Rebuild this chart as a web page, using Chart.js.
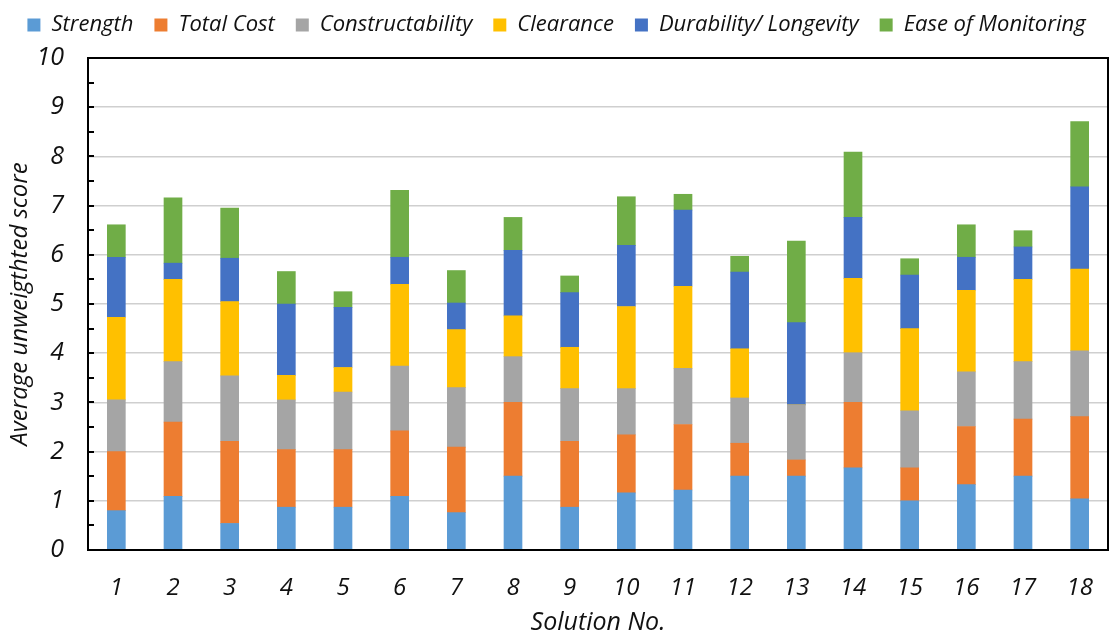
<!DOCTYPE html>
<html>
<head>
<meta charset="utf-8">
<script src="https://cdn.jsdelivr.net/npm/chart.js@4.4.1/dist/chart.umd.min.js"></script>
<style>
  html, body { margin: 0; padding: 0; background: #fff; }
  #wrap { width: 1117px; height: 640px; }
</style>
</head>
<body>
<div id="wrap"><canvas id="c" width="1117" height="640"></canvas></div>
<script>
// Solution numbers on the x axis
const categories = ['1','2','3','4','5','6','7','8','9','10','11','12','13','14','15','16','17','18'];

// Average unweighted scores per criterion (stacked)
const strength         = [0.80,1.09,0.54,0.87,0.87,1.09,0.76,1.50,0.87,1.16,1.22,1.50,1.50,1.67,1.00,1.33,1.50,1.04];
const totalCost        = [1.20,1.51,1.67,1.17,1.17,1.33,1.33,1.50,1.34,1.18,1.33,0.67,0.33,1.33,0.67,1.18,1.16,1.67];
const constructability = [1.05,1.23,1.33,1.01,1.17,1.32,1.21,0.93,1.07,0.94,1.14,0.92,1.12,1.01,1.16,1.11,1.17,1.34];
const clearance        = [1.68,1.67,1.51,0.50,0.50,1.66,1.18,0.83,0.84,1.67,1.67,1.00,0.00,1.51,1.67,1.66,1.67,1.66];
const durability       = [1.22,0.33,0.88,1.45,1.22,0.55,0.54,1.33,1.11,1.24,1.55,1.56,1.67,1.24,1.09,0.67,0.66,1.67];
const easeMonitoring   = [0.66,1.33,1.02,0.66,0.32,1.36,0.66,0.67,0.34,0.99,0.32,0.32,1.66,1.33,0.33,0.66,0.33,1.33];

// Y axis tick labels
const yTicks = [0,1,2,3,4,5,6,7,8,9,10];

const seriesNames  = ['Strength','Total Cost','Constructability','Clearance','Durability/ Longevity','Ease of Monitoring'];
const seriesData   = [strength, totalCost, constructability, clearance, durability, easeMonitoring];
const seriesColors = ['#5B9BD5','#ED7D31','#A5A5A5','#FFC000','#4472C4','#70AD47'];

const FONT = '"Open Sans", "DejaVu Sans", sans-serif';

// Fixed legend band at the top; items sit a little higher than the band padding would put them
const legendBand = {
  id: 'legendBand',
  beforeInit(chart) {
    const orig = chart.legend.fit;
    chart.legend.fit = function () {
      orig.call(this);
      this.height = 58;
    };
  },
  afterLayout(chart) {
    chart.legend.top -= 7;
    chart.legend.bottom -= 7;
  }
};

// Black frame around the plot and short inward ticks every half unit
const frameAndTicks = {
  id: 'frameAndTicks',
  afterDatasetsDraw(chart) {
    const { ctx, chartArea: a, scales: { y } } = chart;
    ctx.save();
    ctx.strokeStyle = '#000';
    ctx.lineWidth = 2;
    for (let v = 0; v <= 10; v += 0.5) {
      const py = Math.round(y.getPixelForValue(v));
      ctx.beginPath();
      ctx.moveTo(a.left, py);
      ctx.lineTo(a.left + 6, py);
      ctx.stroke();
    }
    ctx.strokeRect(a.left, a.top, a.right - a.left, a.bottom - a.top);
    ctx.restore();
  }
};

new Chart(document.getElementById('c'), {
  type: 'bar',
  data: {
    labels: categories,
    datasets: seriesNames.map((name, i) => ({
      label: name,
      data: seriesData[i],
      backgroundColor: seriesColors[i],
      borderWidth: 0,
      barThickness: 18
    }))
  },
  options: {
    responsive: false,
    animation: false,
    devicePixelRatio: 1,
    layout: { padding: { left: 0, right: 4, top: 0, bottom: 0 } },
    plugins: {
      tooltip: { enabled: false },
      legend: {
        position: 'top',
        align: 'center',
        labels: {
          boxWidth: 13,
          boxHeight: 13,
          padding: 21,
          color: '#111',
          font: { family: FONT, size: 22, style: 'italic' }
        }
      }
    },
    scales: {
      x: {
        stacked: true,
        grid: { display: false, drawTicks: false },
        border: { display: false },
        ticks: {
          padding: 24,
          color: '#111',
          font: { family: FONT, size: 24, style: 'italic' }
        },
        title: {
          display: true,
          text: 'Solution No.',
          color: '#111',
          padding: { top: 0, bottom: 2 },
          font: { family: FONT, size: 25, style: 'italic' }
        },
        afterFit(scale) { scale.height = 90; }
      },
      y: {
        stacked: true,
        min: yTicks[0],
        max: yTicks[yTicks.length - 1],
        afterBuildTicks(scale) { scale.ticks = yTicks.map(v => ({ value: v })); },
        grid: {
          color: (c) => (c.tick && (c.tick.value === 0 || c.tick.value === 10)) ? 'rgba(0,0,0,0)' : '#cfcfcf',
          lineWidth: 1.5,
          drawTicks: false
        },
        border: { display: false },
        ticks: {
          padding: 24,
          color: '#111',
          font: { family: FONT, size: 25, style: 'italic' }
        },
        title: {
          display: true,
          text: 'Average unweigthted score',
          color: '#111',
          padding: { top: 6, bottom: 0 },
          font: { family: FONT, size: 24, style: 'italic' }
        },
        afterFit(scale) { scale.width = 88; }
      }
    }
  },
  plugins: [legendBand, frameAndTicks]
});
</script>
</body>
</html>
